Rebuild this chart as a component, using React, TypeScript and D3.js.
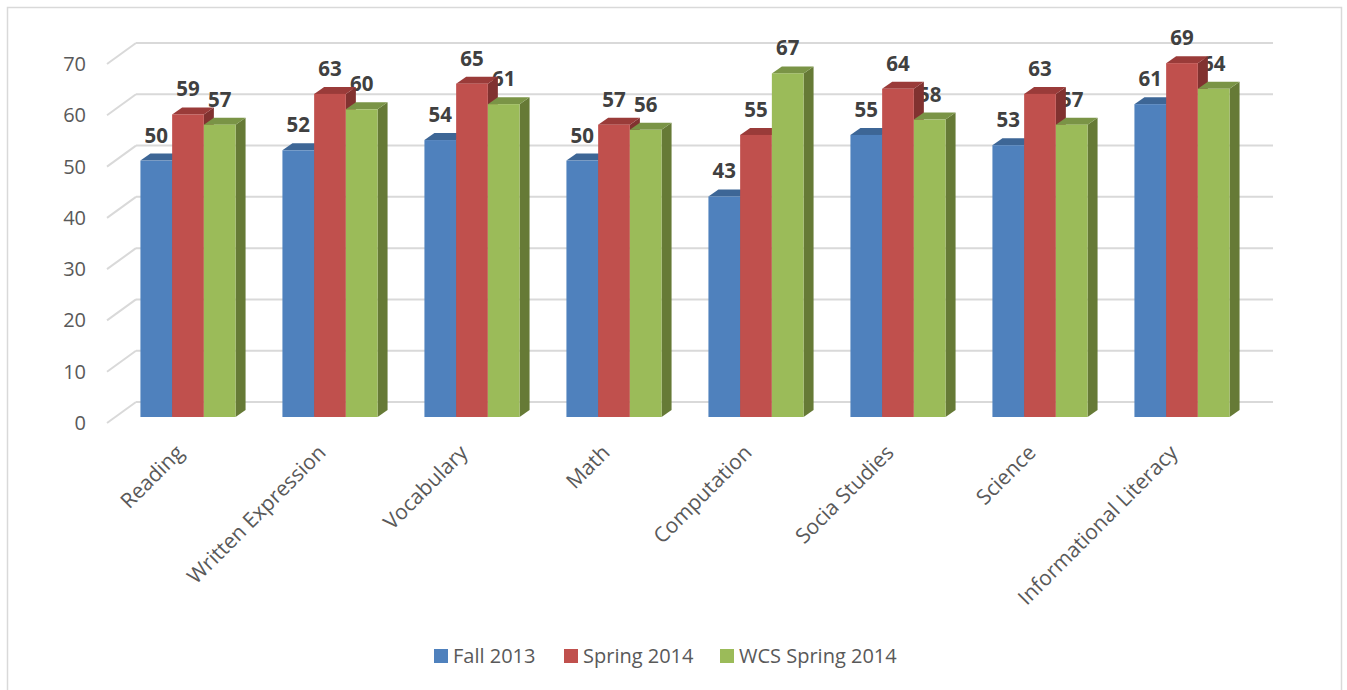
import React from "react";
import * as d3 from "d3";

const categories = [
  "Reading",
  "Written Expression",
  "Vocabulary",
  "Math",
  "Computation",
  "Socia Studies",
  "Science",
  "Informational Literacy",
];
const seriesNames = ["Fall 2013", "Spring 2014", "WCS Spring 2014"];
const fall2013 = [50, 52, 54, 50, 43, 55, 53, 61];
const spring2014 = [59, 63, 65, 57, 55, 64, 63, 69];
const wcsSpring2014 = [57, 60, 61, 56, 67, 58, 57, 64];
const yTicks = [0, 10, 20, 30, 40, 50, 60, 70];

const seriesValues = [fall2013, spring2014, wcsSpring2014];
const front = ["#4F81BD", "#C0504D", "#9BBB59"];
const top = ["#3D6696", "#9A3B39", "#7A9446"];
const side = ["#35577F", "#813230", "#667A36"];

const FONT = "'Open Sans', 'Liberation Sans', sans-serif";

export default function App() {
  const W = 1347, H = 690;
  const x = d3.scaleBand<string>().domain(categories).range([117, 1253]).paddingInner(0.33).paddingOuter(0.165);
  const xs = d3.scaleBand<string>().domain(seriesNames).range([0, x.bandwidth()]);
  const y = d3.scaleLinear().domain([0, 70]).range([417, 58]);
  const dx = 10, dy = -7;

  return (
    <svg width={W} height={H} style={{ position: "absolute", left: 0, top: 0 }} fontFamily={FONT}>
      <rect x={7.5} y={7.5} width={1334} height={720} fill="#fff" stroke="#D9D9D9" strokeWidth={1.5} />
      {/* gridlines: back wall + floor edge */}
      {yTicks.map((t) => (
        <g key={t}>
          <line x1={136} x2={1273} y1={y(t) - 15} y2={y(t) - 15} stroke="#D9D9D9" strokeWidth={2} />
          <line x1={107} x2={136} y1={y(t) + 6} y2={y(t) - 15} stroke="#D9D9D9" strokeWidth={2} />
          <text x={86} y={y(t) + 6} dy="0.35em" textAnchor="end" fontSize={20} fill="#595959">{t}</text>
        </g>
      ))}
      {/* data labels (drawn under the bars, like the original) */}
      {categories.map((c, i) =>
        seriesNames.map((s, k) => {
          const v = seriesValues[k][i];
          const bx = (x(c) as number) + (xs(s) as number);
          return (
            <text key={c + s} x={bx + xs.bandwidth() / 2} y={y(v) - 18} textAnchor="middle"
              fontSize={20.5} fontWeight="bold" fill="#404040">{v}</text>
          );
        })
      )}
      {/* bars */}
      {categories.map((c, i) =>
        seriesNames.map((s, k) => {
          const v = seriesValues[k][i];
          const bx = (x(c) as number) + (xs(s) as number);
          const bw = xs.bandwidth();
          const y0 = y(0), y1 = y(v);
          return (
            <g key={c + s}>
              <path d={`M${bx + bw},${y1}L${bx + bw + dx},${y1 + dy}L${bx + bw + dx},${y0 + dy}L${bx + bw},${y0}Z`} fill={side[k]} />
              <path d={`M${bx},${y1}L${bx + dx},${y1 + dy}L${bx + bw + dx},${y1 + dy}L${bx + bw},${y1}Z`} fill={top[k]} />
              <rect x={bx} y={y1} width={bw} height={y0 - y1} fill={front[k]} />
            </g>
          );
        })
      )}
      {/* category labels */}
      {categories.map((c) => {
        const cx = (x(c) as number) + x.bandwidth() / 2;
        return (
          <text key={c} transform={`translate(${cx - 3},454) rotate(-45)`} textAnchor="end"
            fontSize={21} fill="#595959">{c}</text>
        );
      })}
      {/* legend */}
      {[434, 564, 720].map((lx, k) => (
        <g key={seriesNames[k]}>
          <rect x={lx} y={649} width={14} height={14} fill={front[k]} />
          <text x={lx + 19} y={663} fontSize={20} fill="#595959">{seriesNames[k]}</text>
        </g>
      ))}
    </svg>
  );
}
